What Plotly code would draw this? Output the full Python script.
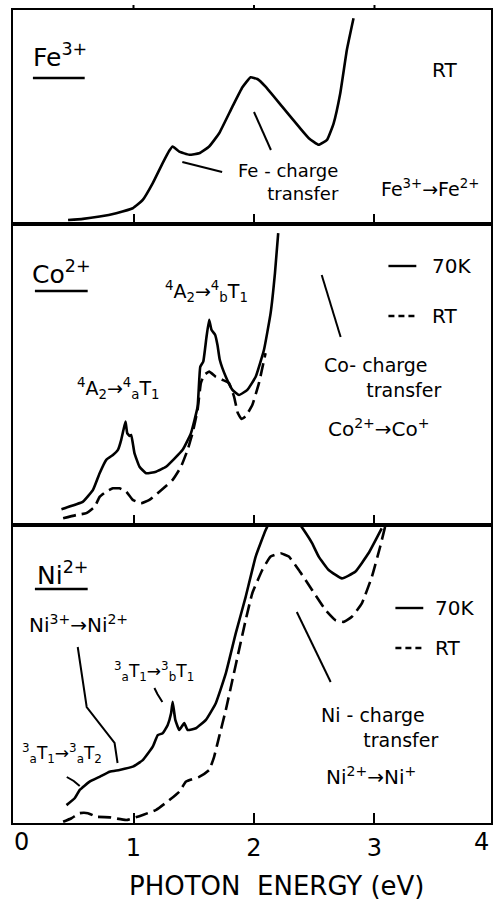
import plotly.graph_objects as go

# ---------------- data (arbitrary absorption units, 0-100 per panel) ----------------
fe_x = [0.457, 0.581, 0.719, 0.857, 0.994, 1.077, 1.160, 1.242, 1.298, 1.325, 1.380, 1.463,
        1.545, 1.628, 1.711, 1.821, 1.904, 1.972, 2.028, 2.096, 2.234, 2.372, 2.455, 2.537,
        2.606, 2.661, 2.716, 2.771, 2.826]
fe_rt = [0.9, 1.4, 2.5, 4.1, 6.4, 10.3, 18.2, 27.6, 33.5, 35.4, 33.0, 31.5,
         32.2, 35.4, 41.6, 54.1, 63.2, 67.9, 67.1, 63.5, 54.1, 44.7, 39.3, 36.2,
         38.5, 46.3, 60.4, 80.8, 95.6]

co_x_70k = [0.402, 0.581, 0.664, 0.719, 0.774, 0.829, 0.871, 0.898, 0.917, 0.934, 0.948, 0.967,
            0.981, 1.008, 1.050, 1.105, 1.187, 1.270, 1.408, 1.477, 1.532, 1.554, 1.579, 1.606,
            1.628, 1.647, 1.678, 1.697, 1.716, 1.766, 1.821, 1.876, 1.945, 2.014, 2.083, 2.138,
            2.174, 2.201]
co_70k = [5.2, 7.7, 11.6, 17.1, 21.5, 23.1, 24.8, 28.1, 31.4, 34.1, 30.3, 29.4,
          29.7, 23.7, 19.2, 17.1, 17.6, 19.2, 24.8, 30.3, 39.0, 52.2, 53.9, 62.1,
          67.7, 64.4, 62.7, 59.4, 54.5, 48.9, 44.6, 42.9, 44.6, 48.9, 57.8, 69.9,
          83.1, 96.3]
co_x_rt = [0.416, 0.526, 0.609, 0.678, 0.719, 0.774, 0.829, 0.884, 0.940, 0.994, 1.063, 1.132,
           1.215, 1.325, 1.394, 1.449, 1.490, 1.532, 1.559, 1.587, 1.628, 1.683, 1.738, 1.793,
           1.835, 1.865, 1.895, 1.931, 1.986, 2.041, 2.096]
co_rt = [2.2, 3.3, 3.9, 6.0, 9.3, 11.0, 12.1, 12.1, 11.0, 8.3, 7.2, 8.3,
         11.0, 14.9, 19.2, 24.8, 30.3, 38.0, 46.8, 49.5, 50.6, 48.9, 47.9, 46.8,
         42.3, 37.0, 35.0, 35.9, 39.6, 46.8, 56.7]

ni_x_70k = [0.444, 0.512, 0.554, 0.636, 0.719, 0.802, 0.884, 0.994, 1.077, 1.160, 1.201, 1.242,
            1.284, 1.312, 1.325, 1.347, 1.380, 1.421, 1.449, 1.518, 1.601, 1.683, 1.766, 1.849,
            1.931, 2.014, 2.097, 2.17, 2.25, 2.33, 2.413, 2.482, 2.537, 2.620, 2.730, 2.840,
            2.950, 3.060]
ni_70k = [6.0, 8.3, 11.1, 13.9, 15.5, 17.2, 17.8, 18.9, 21.1, 25.6, 29.5, 30.1,
          32.9, 36.8, 40.7, 34.6, 31.2, 33.5, 31.2, 31.8, 34.6, 40.2, 50.2, 63.7,
          75.9, 89.4, 98.3, 104.0, 106.0, 103.0, 98.3, 93.9, 89.4, 84.9, 82.1, 84.3,
          90.5, 98.9]
ni_x_rt = [0.416, 0.485, 0.554, 0.622, 0.692, 0.802, 0.940, 1.077, 1.188, 1.298, 1.380, 1.436,
           1.545, 1.628, 1.669, 1.711, 1.766, 1.821, 1.876, 1.931, 1.986, 2.069, 2.138, 2.221,
           2.289, 2.372, 2.482, 2.593, 2.675, 2.744, 2.812, 2.895, 2.978, 3.047, 3.088]
ni_rt = [0.4, 1.6, 3.3, 3.3, 2.1, 1.9, 1.0, 2.7, 4.4, 7.7, 10.5, 13.9,
         15.5, 17.8, 22.2, 29.0, 37.9, 48.0, 58.1, 68.1, 77.1, 84.9, 89.4, 90.5,
         89.4, 84.9, 78.2, 71.5, 68.1, 67.5, 69.2, 73.7, 82.6, 92.7, 99.4]

x_ticks = [1, 2, 3]
x_tick_text = ["1", "2", "3"]
x_title = "PHOTON&nbsp;&nbsp;ENERGY (eV)"

# ---------------- layout geometry ----------------
W, H = 494, 902
L, R, T, B = 13, 1, 10, 79
PW, PH = W - L - R, H - T - B
FONT = "DejaVu Sans"


def qx(p):
    return (p - L) / PW


def qy(p):
    return (H - B - p) / PH


dom_top = [qy(224), 1.0]
dom_mid = [qy(525), qy(224)]
dom_bot = [0.0, qy(525)]
x_range = [0, PW / 121.0]

fig = go.Figure()
solid = dict(color="black", width=2.6, shape="spline", smoothing=0.35)
dashed = dict(color="black", width=2.6, dash="13px,6px", shape="spline", smoothing=0.35)

fig.add_trace(go.Scatter(x=fe_x, y=fe_rt, mode="lines", line=solid, xaxis="x", yaxis="y"))
fig.add_trace(go.Scatter(x=co_x_70k, y=co_70k, mode="lines", line=solid, xaxis="x2", yaxis="y2"))
fig.add_trace(go.Scatter(x=co_x_rt, y=co_rt, mode="lines", line=dashed, xaxis="x2", yaxis="y2"))
fig.add_trace(go.Scatter(x=ni_x_70k, y=ni_70k, mode="lines", line=solid, xaxis="x3", yaxis="y3"))
fig.add_trace(go.Scatter(x=ni_x_rt, y=ni_rt, mode="lines", line=dashed, xaxis="x3", yaxis="y3"))

axis_common = dict(showline=True, linecolor="black", linewidth=2, showgrid=False,
                   zeroline=False, fixedrange=True)
xcommon = dict(axis_common, range=x_range, tickvals=x_ticks, ticktext=x_tick_text,
               ticks="inside", ticklen=10, tickwidth=2, tickcolor="black")
fig.update_layout(
    width=W, height=H, margin=dict(l=L, r=R, t=T, b=B),
    paper_bgcolor="white", plot_bgcolor="white", showlegend=False,
    font=dict(family=FONT, color="black", size=20),
    xaxis=dict(xcommon, anchor="y", mirror=True, showticklabels=False),
    xaxis2=dict(xcommon, anchor="y2", mirror=True, showticklabels=False, matches="x"),
    xaxis3=dict(xcommon, anchor="y3", mirror=True, showticklabels=True, matches="x",
                tickfont=dict(size=24, family=FONT), ticklabelstandoff=2),
    yaxis=dict(axis_common, domain=dom_top, range=[-1, 99.5], mirror=True, showticklabels=False, ticks=""),
    yaxis2=dict(axis_common, domain=dom_mid, range=[0, 99.3], mirror=True, showticklabels=False, ticks=""),
    yaxis3=dict(axis_common, domain=dom_bot, range=[0, 100], mirror=True, showticklabels=False, ticks=""),
)

ann = []


def text(s, x, y, size=20, xanchor="center", align="center"):
    ann.append(dict(text=s, x=qx(x), y=qy(y), xref="paper", yref="paper", showarrow=False,
                    xanchor=xanchor, yanchor="middle", align=align,
                    font=dict(size=size, family=FONT, color="black")))


shapes = []


def seg(pts, dash=None, width=2):
    path = "M " + " L ".join(f"{qx(a):.5f},{qy(b):.5f}" for a, b in pts)
    line = dict(color="black", width=width)
    if dash:
        line["dash"] = dash
    shapes.append(dict(type="path", path=path, xref="paper", yref="paper", line=line))


# top ticks of the upper panel (pointing outward, as in the original)
for v in x_ticks:
    shapes.append(dict(type="line", xref="x", yref="paper", x0=v, x1=v,
                       y0=1.0, y1=1.0 + 5 / PH, line=dict(color="black", width=2)))

# --- top panel ---
text("Fe<sup>3+</sup>", 60, 55, 25)
seg([(33, 78), (85, 78)], width=2.5)
text("RT", 446, 70, 20)
text("Fe - charge<br>transfer", 290, 182, 18, align="right")
text("Fe<sup>3+</sup>→Fe<sup>2+</sup>", 432, 188, 19)
seg([(183, 162), (223, 172)])
seg([(255, 112), (272, 150)])

# --- middle panel ---
text("Co<sup>2+</sup>", 62, 273, 25)
seg([(35, 291), (88, 291)], width=2.5)
seg([(390, 266), (418, 266)], width=2.4)
text("70K", 432, 266, 20, "left")
seg([(390, 316), (418, 316)], dash="6px,4px", width=2.4)
text("RT", 432, 316, 20, "left")
text("<sup>4</sup>A<sub>2</sub>→<sup>4</sup><sub>b</sub>T<sub>1</sub>", 207, 292, 19)
text("<sup>4</sup>A<sub>2</sub>→<sup>4</sup><sub>a</sub>T<sub>1</sub>", 119, 388, 19)
seg([(323, 275), (342, 337)])
text("Co- charge<br>" + "&nbsp;" * 7 + "transfer", 323, 377, 19, "left", "left")
text("Co<sup>2+</sup>→Co<sup>+</sup>", 381, 428, 20)

# --- bottom panel ---
text("Ni<sup>2+</sup>", 63, 574, 25)
seg([(35, 589), (88, 589)], width=2.5)
text("Ni<sup>3+</sup>→Ni<sup>2+</sup>", 79, 624, 20)
seg([(78, 647), (87, 707), (115, 743), (118, 763)])
text("<sup>3</sup><sub>a</sub>T<sub>1</sub>→<sup>3</sup><sub>b</sub>T<sub>1</sub>", 155, 671, 17)
seg([(155, 688), (158, 694), (163, 702)])
text("<sup>3</sup><sub>a</sub>T<sub>1</sub>→<sup>3</sup><sub>a</sub>T<sub>2</sub>", 62, 753, 17)
seg([(67, 777), (74, 781), (80, 786)])
seg([(397, 608), (425, 608)], width=2.4)
text("70K", 435, 608, 20, "left")
seg([(397, 648), (425, 648)], dash="6px,4px", width=2.4)
text("RT", 435, 648, 20, "left")
seg([(298, 612), (332, 682)])
text("Ni - charge<br>" + "&nbsp;" * 7 + "transfer", 320, 727, 19, "left", "left")
text("Ni<sup>2+</sup>→Ni<sup>+</sup>", 372, 776, 20)

# --- axis extras ---
text("0", 22, 842, 24)
text("4", 493, 842, 24, "right")
text(x_title, 278, 886, 26)

fig.update_layout(annotations=ann, shapes=shapes)
fig.write_html("out.html")
